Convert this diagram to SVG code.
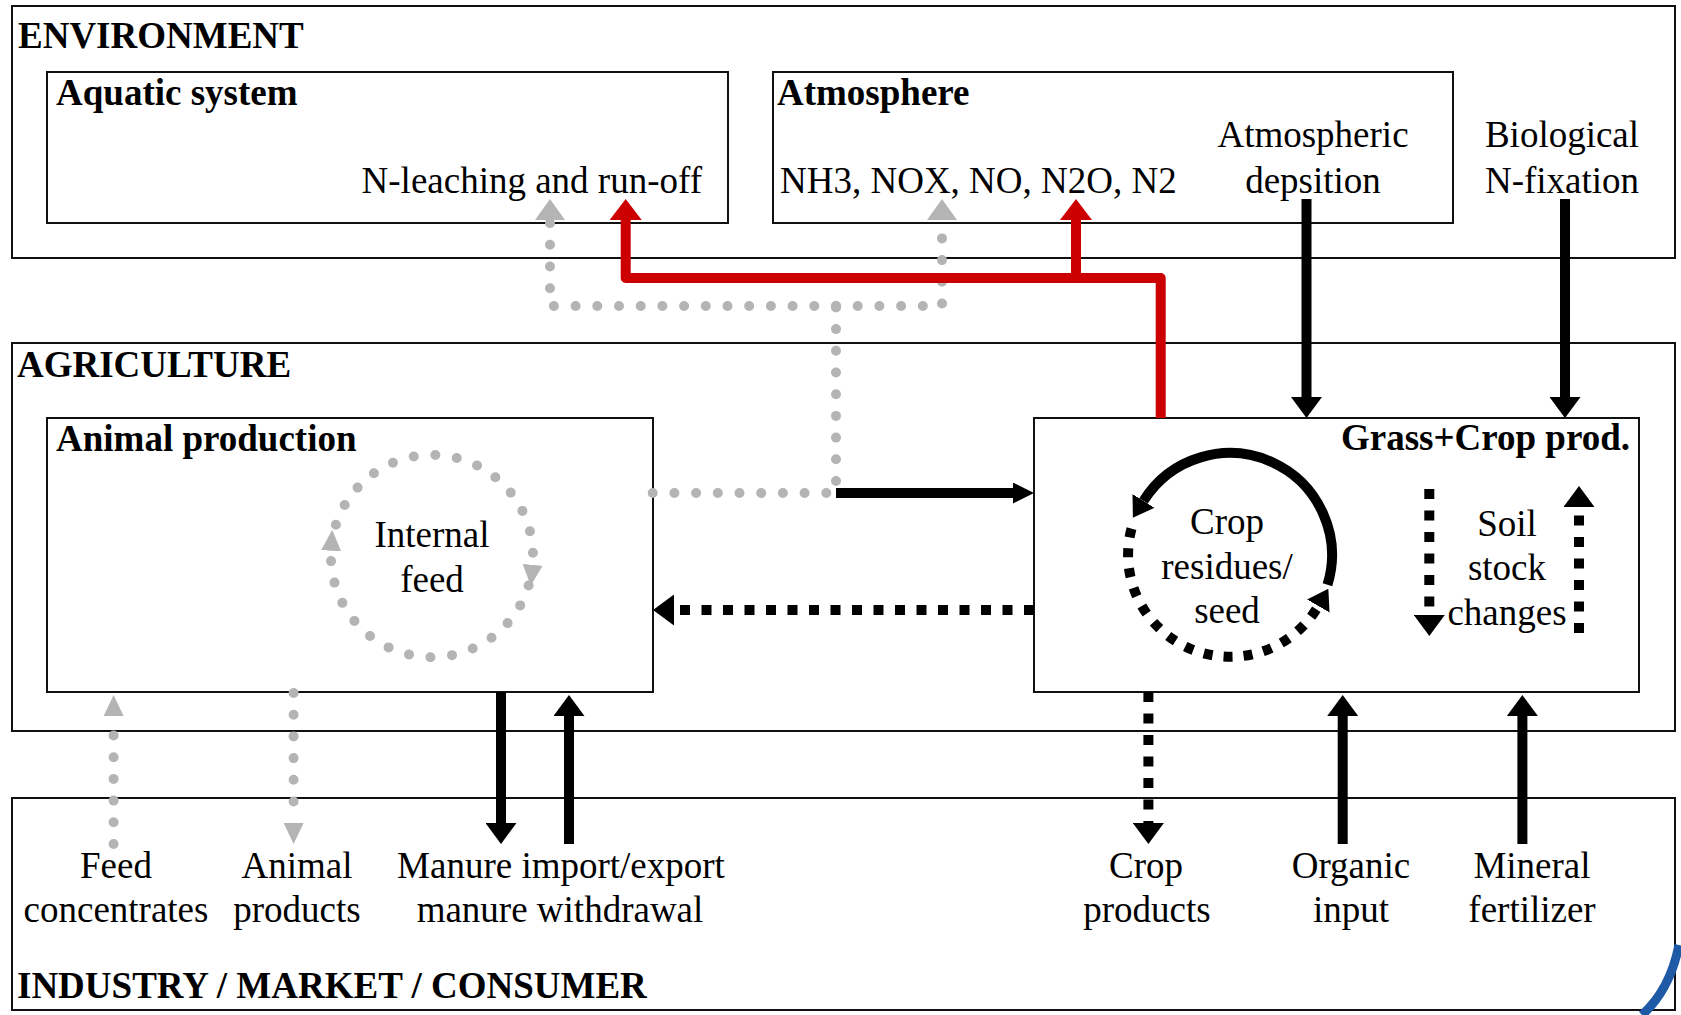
<svg xmlns="http://www.w3.org/2000/svg" width="1681" height="1015" viewBox="0 0 1681 1015">
<style>
.box{fill:none;stroke:#111;stroke-width:2}
.t{font-family:"Liberation Serif","Times New Roman",serif;font-size:37px;fill:#000}
.b{font-weight:bold}
.m{text-anchor:middle}
.e{text-anchor:end}
.solid{fill:none;stroke:#000;stroke-width:10}
.dash{fill:none;stroke:#000;stroke-width:10;stroke-dasharray:10 11.5}
.cdash{fill:none;stroke:#000;stroke-width:10;stroke-dasharray:9 11}
.dot{fill:none;stroke:#b4b4b4;stroke-width:10;stroke-linecap:round;stroke-dasharray:0 21.7}
.red{fill:none;stroke:#cc0000;stroke-width:10;stroke-linejoin:round}
</style>
<defs>
<marker id="ab" viewBox="0 0 21 31" refX="0" refY="15.5" markerWidth="21" markerHeight="31" markerUnits="userSpaceOnUse" orient="auto"><path d="M0,0 L21,15.5 L0,31 z" fill="#000"/></marker>
<marker id="abs" viewBox="0 0 21 21" refX="0" refY="10.5" markerWidth="21" markerHeight="21" markerUnits="userSpaceOnUse" orient="auto"><path d="M0,0 L21,10.5 L0,21 z" fill="#000"/></marker>
<marker id="abc" viewBox="0 0 20 26" refX="0" refY="13" markerWidth="20" markerHeight="26" markerUnits="userSpaceOnUse" orient="auto"><path d="M0,0 L20,13 L0,26 z" fill="#000"/></marker>
<marker id="ar" viewBox="0 0 21 32" refX="0" refY="16" markerWidth="21" markerHeight="32" markerUnits="userSpaceOnUse" orient="auto"><path d="M0,0 L21,16 L0,32 z" fill="#cc0000"/></marker>
<marker id="agl" viewBox="0 0 21 30" refX="0" refY="15" markerWidth="21" markerHeight="30" markerUnits="userSpaceOnUse" orient="auto"><path d="M0,0 L21,15 L0,30 z" fill="#b4b4b4"/></marker>
<marker id="ags" viewBox="0 0 21 20" refX="0" refY="10" markerWidth="21" markerHeight="20" markerUnits="userSpaceOnUse" orient="auto"><path d="M0,0 L21,10 L0,20 z" fill="#b4b4b4"/></marker>
</defs>
<rect x="0" y="0" width="1681" height="1015" fill="#fff"/>

<g id="environment"><rect class="box" x="12" y="6" width="1663" height="252"/><text class="t b" x="18" y="48">ENVIRONMENT</text></g>
<g id="aquatic"><rect class="box" x="47" y="72" width="681" height="151"/><text class="t b" x="56" y="105">Aquatic system</text><text class="t e" x="702" y="193">N-leaching and run-off</text></g>
<g id="atmosphere"><rect class="box" x="773" y="72" width="680" height="151"/><text class="t b" x="777" y="105">Atmosphere</text><text class="t" x="780" y="193">NH3, NOX, NO, N2O, N2</text></g>
<g id="atm-deposition"><text class="t m" x="1313" y="147">Atmospheric</text><text class="t m" x="1313" y="193">depsition</text></g>
<g id="bio-fixation"><text class="t m" x="1562" y="147">Biological</text><text class="t m" x="1562" y="193">N-fixation</text></g>

<g id="agriculture"><rect class="box" x="12" y="343" width="1663" height="388"/><text class="t b" x="17" y="377">AGRICULTURE</text></g>
<g id="animal"><rect class="box" x="47" y="418" width="606" height="274"/><text class="t b" x="56" y="451">Animal production</text><text class="t m" x="432" y="547">Internal</text><text class="t m" x="432" y="592">feed</text></g>
<g id="grass"><rect class="box" x="1034" y="418" width="605" height="274"/><text class="t b e" x="1630" y="450">Grass+Crop prod.</text>
<text class="t m" x="1227" y="534">Crop</text><text class="t m" x="1227" y="579">residues/</text><text class="t m" x="1227" y="623">seed</text>
<text class="t m" x="1507" y="536">Soil</text><text class="t m" x="1507" y="580">stock</text><text class="t m" x="1507" y="625">changes</text></g>

<g id="industry"><rect class="box" x="12" y="798" width="1663" height="212"/><text class="t b" x="17" y="998">INDUSTRY / MARKET / CONSUMER</text>
<text class="t m" x="116" y="878">Feed</text><text class="t m" x="116" y="922">concentrates</text>
<text class="t m" x="297" y="878">Animal</text><text class="t m" x="297" y="922">products</text>
<text class="t m" x="561" y="878">Manure import/export</text><text class="t m" x="560" y="922">manure withdrawal</text>
<text class="t m" x="1146" y="878">Crop</text><text class="t m" x="1147" y="922">products</text>
<text class="t m" x="1351" y="878">Organic</text><text class="t m" x="1351" y="922">input</text>
<text class="t m" x="1532" y="878">Mineral</text><text class="t m" x="1532" y="922">fertilizer</text></g>

<g id="connectors">
<path class="dot" d="M652.7,493 H836 V306"/>
<path class="dot" d="M836,306 H550 V220" marker-end="url(#agl)"/>
<path class="dot" d="M836,306 H942 V220" marker-end="url(#agl)"/>
<path class="dot" d="M335.9,524.8 A101,101 0 0 1 532.6,564.8" marker-end="url(#ags)"/>
<path class="dot" d="M528.6,585.5 A101,101 0 0 1 331.1,550.7" marker-end="url(#ags)"/>
<path class="dot" d="M113.6,844 V716" marker-end="url(#ags)"/>
<path class="dot" d="M293.6,693 V823" marker-end="url(#ags)"/>
<path class="red" d="M1160.7,418 V278 H625.7 V220" marker-end="url(#ar)"/>
<path class="red" d="M1076,278 V220" marker-end="url(#ar)"/>
<path class="solid" d="M1306.5,199 V397" marker-end="url(#ab)"/>
<path class="solid" d="M1565,199 V397" marker-end="url(#ab)"/>
<path class="solid" d="M836,493 H1013" marker-end="url(#abs)"/>
<path class="dash" d="M1034,610 H674" marker-end="url(#ab)"/>
<path class="solid" d="M1327.5,584.8 A102,102 0 0 0 1143.5,500.9" marker-end="url(#abc)"/>
<path class="cdash" d="M1131.5,528.6 A102,102 0 0 0 1318.3,606" marker-end="url(#abc)"/>
<path class="dash" d="M1429.3,489 V615" marker-end="url(#ab)"/>
<path class="dash" d="M1579,633 V507" marker-end="url(#ab)"/>
<path class="solid" d="M501,692 V823" marker-end="url(#ab)"/>
<path class="solid" d="M569,844 V716" marker-end="url(#ab)"/>
<path class="dash" d="M1148.4,692 V823" marker-end="url(#ab)"/>
<path class="solid" d="M1342.7,844 V716" marker-end="url(#ab)"/>
<path class="solid" d="M1522.4,844 V716" marker-end="url(#ab)"/>
</g>
<path d="M1679,945 Q1670,990 1642,1015" fill="none" stroke="#1f5aa6" stroke-width="9"/>
</svg>
